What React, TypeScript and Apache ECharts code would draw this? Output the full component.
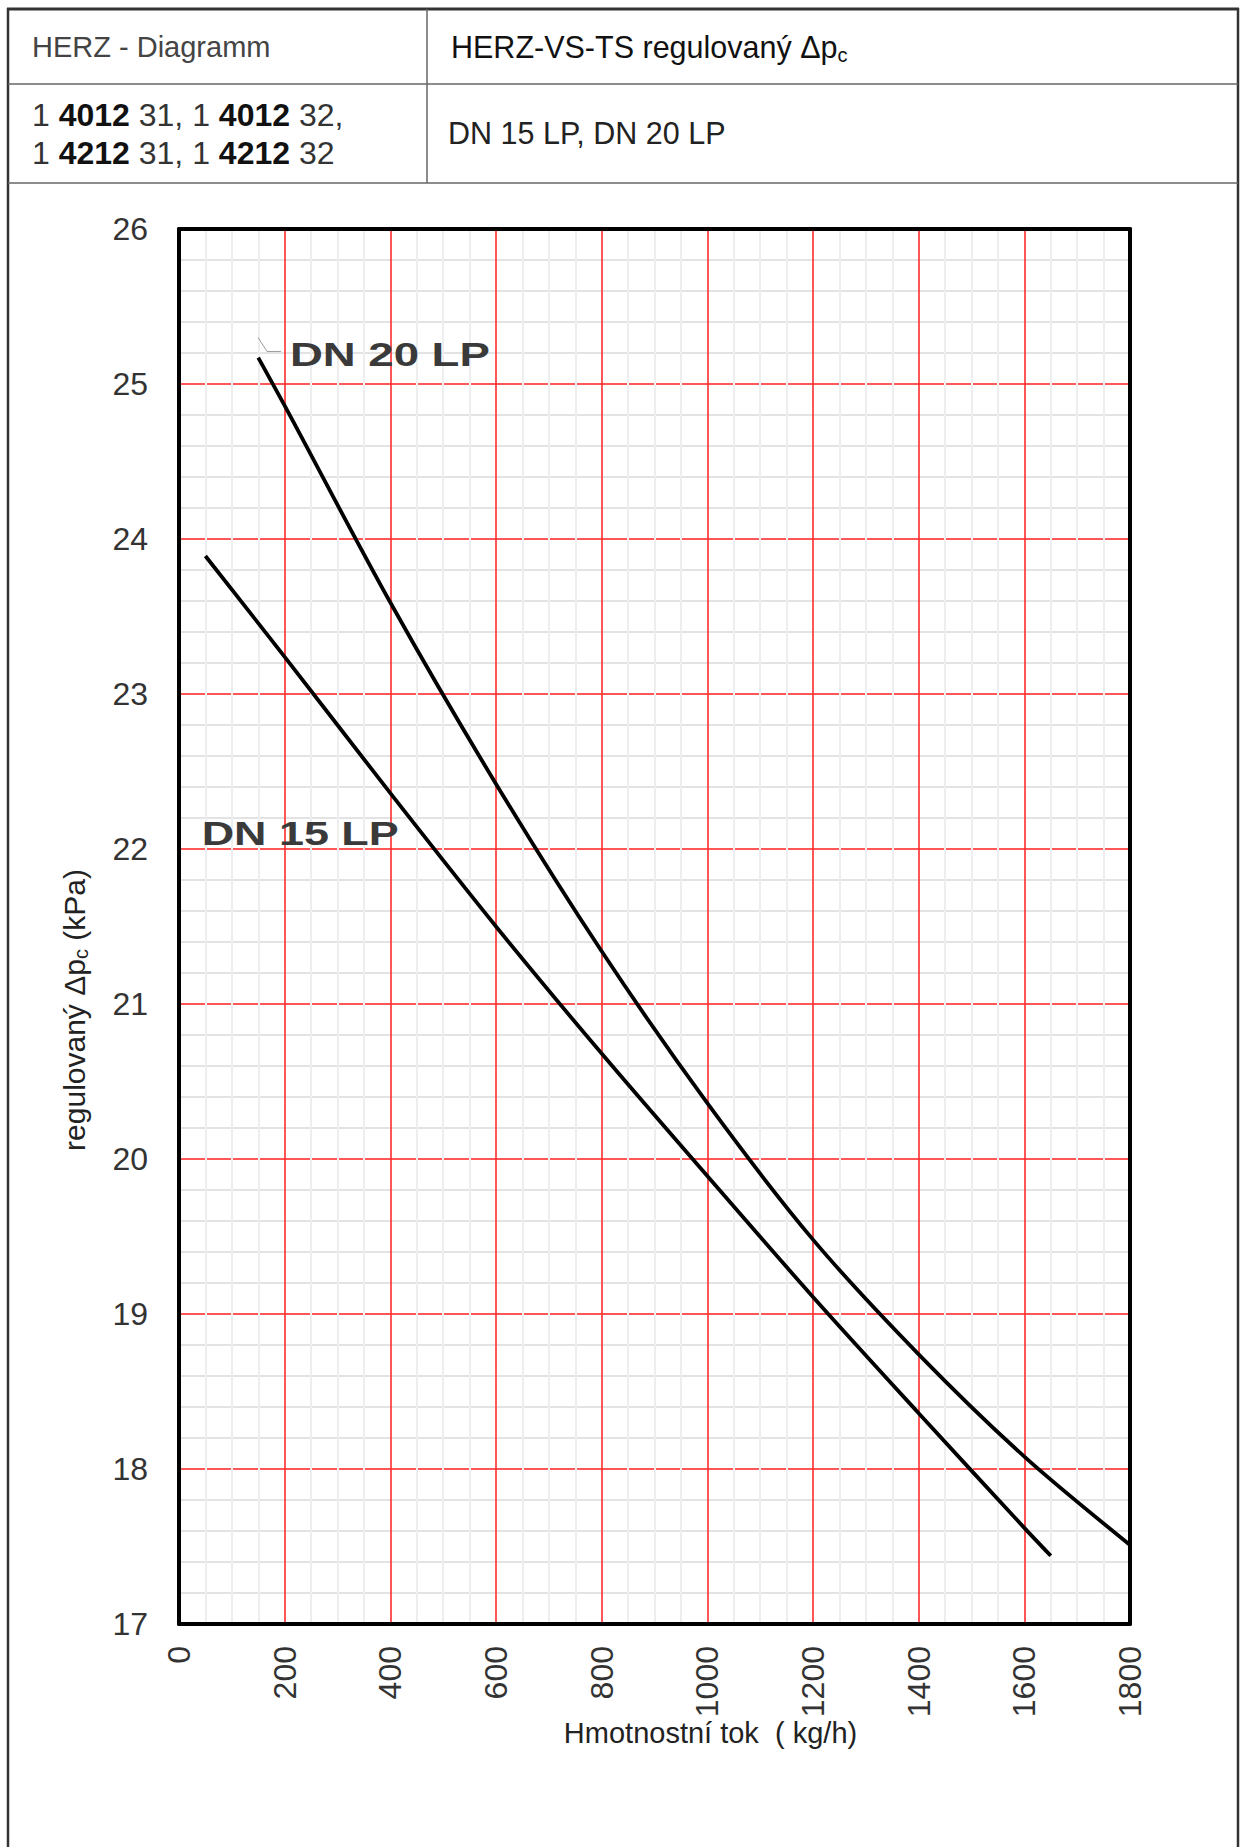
import React, { useEffect, useRef } from "react";
import * as echarts from "echarts";

// ---- data ----
const xMin = 0;
const xMax = 1800;
const xStep = 200;
const yMin = 17;
const yMax = 26;
const yStep = 1;

// DN 15 LP curve: flow (kg/h) and regulated Δpc (kPa)
const flowDN15 = [50, 200, 400, 600, 800, 1000, 1200, 1400, 1600, 1650];
const dpDN15 = [23.89, 23.24, 22.36, 21.5, 20.68, 19.89, 19.11, 18.36, 17.62, 17.44];

// DN 20 LP curve
const flowDN20 = [150, 200, 400, 600, 800, 1000, 1200, 1400, 1600, 1800];
const dpDN20 = [25.17, 24.86, 23.59, 22.42, 21.34, 20.36, 19.48, 18.74, 18.08, 17.51];

// curve label anchors (data coords)
const labelDN15 = { text: "DN 15 LP", at: [43, 22.1] };
const labelDN20 = { text: "DN 20 LP", at: [210, 25.19] };
const leaderDN20 = [
  [149.6, 25.3],
  [166.6, 25.21],
  [193, 25.21],
];

const headerTitleLeft = "HERZ - Diagramm";
const headerTitleRight = "HERZ-VS-TS regulovaný Δp{s|c}";
const headerCodes = "1 {b|4012} 31, 1 {b|4012} 32,\n1 {b|4212} 31, 1 {b|4212} 32";
const headerSizes = "DN 15 LP, DN 20 LP";
const xName = "Hmotnostní tok  ( kg/h)";
const yName = "{n|regulovaný Δp}{s|c}{n| (kPa)}";

const FONT = "'Liberation Sans', Arial, Helvetica, sans-serif";

export default function App() {
  const ref = useRef<HTMLDivElement>(null);

  useEffect(() => {
    if (!ref.current) return;
    const chart = echarts.init(ref.current, undefined, { renderer: "svg" });

    const redLine = { color: "rgba(255,45,45,0.8)", width: 2 };

    const headerGraphics: any[] = [
      { id: "topB", type: "line", shape: { x1: 7, y1: 9, x2: 1239, y2: 9 }, style: { stroke: "#333", lineWidth: 3 } },
      { id: "leftB", type: "line", shape: { x1: 8, y1: 8, x2: 8, y2: 1847 }, style: { stroke: "#333", lineWidth: 2.5 } },
      { id: "rightB", type: "line", shape: { x1: 1238, y1: 8, x2: 1238, y2: 1847 }, style: { stroke: "#333", lineWidth: 2.5 } },
      { id: "row1", type: "line", shape: { x1: 8, y1: 84, x2: 1238, y2: 84 }, style: { stroke: "#666", lineWidth: 1.5 } },
      { id: "row2", type: "line", shape: { x1: 8, y1: 183, x2: 1238, y2: 183 }, style: { stroke: "#666", lineWidth: 1.5 } },
      { id: "colDiv", type: "line", shape: { x1: 427, y1: 9, x2: 427, y2: 183 }, style: { stroke: "#666", lineWidth: 1.5 } },
      {
        id: "tl", type: "text", x: 32, y: 47,
        style: { text: headerTitleLeft, fill: "#444", fontSize: 29, fontFamily: FONT, align: "left", verticalAlign: "middle" },
      },
      {
        id: "tr", type: "text", x: 451, y: 47,
        style: {
          text: headerTitleRight, fill: "#111", fontSize: 30.5, fontFamily: FONT, align: "left", verticalAlign: "middle",
          lineHeight: 36,
          rich: { s: { fontSize: 20, lineHeight: 19, verticalAlign: "bottom", fill: "#111", fontFamily: FONT } },
        },
      },
      {
        id: "codes", type: "text", x: 32, y: 134,
        style: {
          text: headerCodes, fill: "#333", fontSize: 32, fontFamily: FONT, align: "left", verticalAlign: "middle",
          lineHeight: 38,
          rich: { b: { fontWeight: "bold", fontSize: 32, fill: "#111", fontFamily: FONT, lineHeight: 38 } },
        },
      },
      {
        id: "sizes", type: "text", x: 448, y: 133,
        style: { text: headerSizes, fill: "#222", fontSize: 30.5, fontFamily: FONT, align: "left", verticalAlign: "middle" },
      },
    ];

    const option: any = {
      animation: false,
      backgroundColor: "#fff",
      grid: { left: 179, right: 112, top: 229, bottom: 223, containLabel: false },
      xAxis: [
        {
          type: "value", min: xMin, max: xMax, interval: xStep, position: "bottom",
          axisLine: { show: true, onZero: false, lineStyle: { color: "#000", width: 4 } },
          axisTick: { show: false },
          axisLabel: {
            rotate: 90, fontSize: 32, color: "#333", margin: 22, fontFamily: FONT,
            formatter: (v: number) => String(v),
          },
          splitLine: { show: true, showMinLine: false, showMaxLine: false, lineStyle: redLine },
          minorTick: { show: false, splitNumber: 4 },
          minorSplitLine: { show: true, lineStyle: { color: "#eeeeee", width: 2 } },
          name: xName, nameLocation: "middle", nameGap: 94, nameMoveOverlap: false,
          nameTextStyle: { fontSize: 29, color: "#222", fontFamily: FONT, padding: [0, 0, 0, 112] },
        },
        {
          type: "value", min: xMin, max: xMax, interval: xStep, position: "top",
          axisLine: { show: true, onZero: false, lineStyle: { color: "#000", width: 4 } },
          axisTick: { show: false }, axisLabel: { show: false }, splitLine: { show: false },
        },
      ],
      yAxis: [
        {
          type: "value", min: yMin, max: yMax, interval: yStep, position: "left",
          axisLine: { show: true, onZero: false, lineStyle: { color: "#000", width: 4 } },
          axisTick: { show: false },
          axisLabel: { fontSize: 32, color: "#333", margin: 31, fontFamily: FONT },
          splitLine: { show: true, showMinLine: false, showMaxLine: false, lineStyle: redLine },
          minorTick: { show: false, splitNumber: 5 },
          minorSplitLine: { show: true, lineStyle: { color: "#e3e3e3", width: 2 } },
          name: yName, nameLocation: "middle", nameGap: 88, nameRotate: 90, nameMoveOverlap: false,
          nameTextStyle: {
            fontSize: 29, color: "#222", fontFamily: FONT, padding: [0, 167, 0, 0],
            rich: {
              n: { fontSize: 30, color: "#222", fontFamily: FONT, lineHeight: 34 },
              s: { fontSize: 20, color: "#222", fontFamily: FONT, lineHeight: 18, verticalAlign: "bottom" },
            },
          },
        },
        {
          type: "value", min: yMin, max: yMax, interval: yStep, position: "right",
          axisLine: { show: true, onZero: false, lineStyle: { color: "#000", width: 4 } },
          axisTick: { show: false }, axisLabel: { show: false }, splitLine: { show: false },
        },
      ],
      series: [
        {
          name: "DN 15 LP", type: "line", xAxisIndex: 0, yAxisIndex: 0,
          data: flowDN15.map((f, i) => [f, dpDN15[i]]),
          showSymbol: false, smooth: 0.3, lineStyle: { color: "#000", width: 3.8 }, z: 5,
        },
        {
          name: "DN 20 LP", type: "line", xAxisIndex: 0, yAxisIndex: 0,
          data: flowDN20.map((f, i) => [f, dpDN20[i]]),
          showSymbol: false, smooth: 0.3, lineStyle: { color: "#000", width: 3.8 }, z: 5,
        },
      ],
      graphic: { elements: headerGraphics },
    };

    chart.setOption(option);

    const px = (p: number[]) => chart.convertToPixel({ gridIndex: 0 }, p) as number[];
    const p15 = px(labelDN15.at);
    const p20 = px(labelDN20.at);
    const leaderPts = leaderDN20.map(px);

    const labelStyle = (text: string) => ({
      text, fill: "#3a3a3a", fontSize: 33, fontWeight: "bold", fontFamily: FONT,
      align: "left", verticalAlign: "middle",
    });

    chart.setOption({
      graphic: {
        elements: [
          ...headerGraphics,
          { id: "lbl15", type: "text", x: p15[0], y: p15[1], scaleX: 1.36, z: 10, style: labelStyle(labelDN15.text) },
          { id: "lbl20", type: "text", x: p20[0], y: p20[1], scaleX: 1.38, z: 10, style: labelStyle(labelDN20.text) },
          { id: "lead20", type: "polyline", z: 10, shape: { points: leaderPts }, style: { stroke: "#9a9a9a", lineWidth: 1, fill: null } },
        ],
      },
    });

    return () => chart.dispose();
  }, []);

  return (
    <div
      ref={ref}
      style={{ position: "absolute", left: 0, top: 0, width: 1242, height: 1847, background: "#fff" }}
    />
  );
}
